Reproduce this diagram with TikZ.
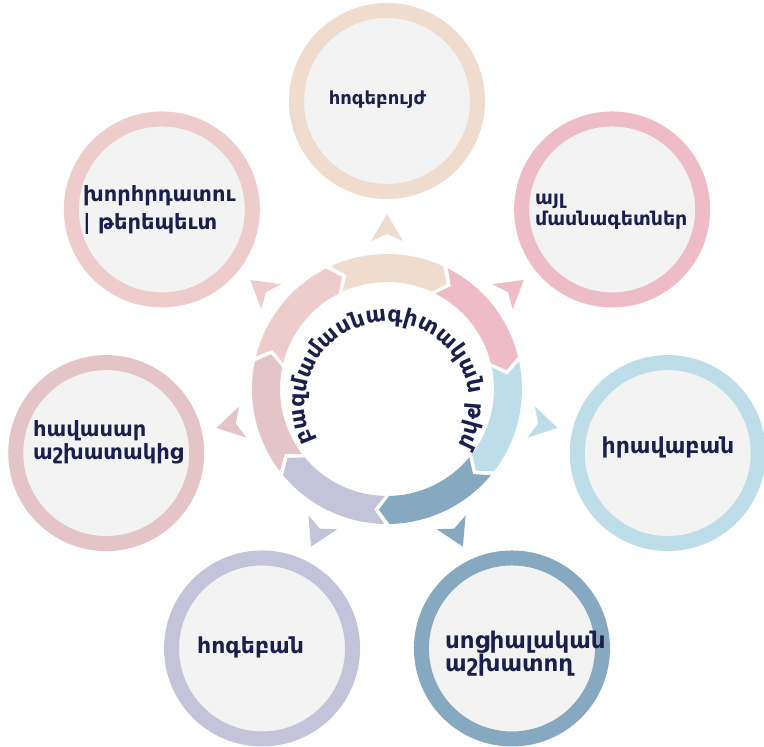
\documentclass[tikz,border=0pt]{standalone}
\usepackage{fontspec}
\newfontfamily\armfont{DejaVu Sans}
\usetikzlibrary{decorations.text,calc}

\definecolor{cBeige}{HTML}{F0DCCD}
\definecolor{cRose}{HTML}{EEBCC7}
\definecolor{cSky}{HTML}{BDDEE9}
\definecolor{cSteel}{HTML}{86A8C1}
\definecolor{cLav}{HTML}{C3C3D9}
\definecolor{cMauve}{HTML}{E4C4C7}
\definecolor{cBlush}{HTML}{EFCCCC}
\definecolor{cFill}{HTML}{F3F3F3}
\definecolor{cInk}{HTML}{1A1F4C}

\begin{document}
\begin{tikzpicture}[x=1pt,y=1pt,
  member/.style={circle, draw=#1, line width=15pt, fill=cFill,
                 minimum size=181pt, inner sep=0pt},
  caption/.style 2 args={font=\armfont\bfseries\fontsize{#1}{#2}\selectfont,
                  text=cInk, inner sep=0pt, align=left},
]
\useasboundingbox (-387,-358) rectangle (377,389);

% outer ring of team members
\node[member=cBeige] (m1) at (90:288) {};
\node[member=cRose]  (m2) at (38.571:288) {};
\node[member=cSky]   (m3) at (-12.857:288) {};
\node[member=cSteel] (m4) at (-64.286:288) {};
\node[member=cLav]   (m5) at (-115.714:288) {};
\node[member=cMauve] (m6) at (-167.143:288) {};
\node[member=cBlush] (m7) at (141.429:288) {};

% member labels
\node[caption={18}{22}, anchor=center] (t1) at (-9.5,289) {հոգեբույժ};
\node[caption={19}{21}, anchor=west] (t2) at (148,177) {այլ\\մասնագետներ};
\node[caption={22}{26}, anchor=center] (t3) at (281,-58) {իրավաբան};
\node[caption={23}{20}, anchor=west] (t4) at (58,-264.5) {սոցիալական\\աշխատող};
\node[caption={22}{26}, anchor=center] (t5) at (-136.5,-258.5) {հոգեբան};
\node[caption={21}{23}, anchor=west] (t6) at (-354,-53.5) {հավասար\\աշխատակից};
\node[caption={21}{28}, anchor=west] (t7) at (-304,178.5) {խորհրդատու\\| թերեպեւտ};

% outward pointers and cycle arrows
\foreach \a/\c in {90/cBeige, 38.571/cRose, -12.857/cSky, -64.286/cSteel,
                   -115.714/cLav, -167.143/cMauve, 141.429/cBlush}{
  \begin{scope}[rotate=\a]
    \fill[\c] (175,0) -- (148,16) -- (155,0) -- (148,-16) -- cycle;
  \end{scope}
  \fill[\c] (\a+24.6:135) arc[start angle=\a+24.6, end angle=\a-24.6, radius=135pt]
        -- (\a-29.6:121) -- (\a-24.6:107)
        arc[start angle=\a-24.6, end angle=\a+24.6, radius=107pt]
        -- (\a+19.6:121) -- cycle;
}

% team title arched inside the cycle
\coordinate (arcc) at (0,-15);
\path[decorate, decoration={text along path, text align={fit to path},
      text color=cInk,
      text={|\armfont\bfseries\fontsize{22}{26}\selectfont|բազմամասնագիտական թիմ}}]
  ($(arcc)+(207:82)$) arc[start angle=207, end angle=-27, radius=82pt];
\end{tikzpicture}
\end{document}
